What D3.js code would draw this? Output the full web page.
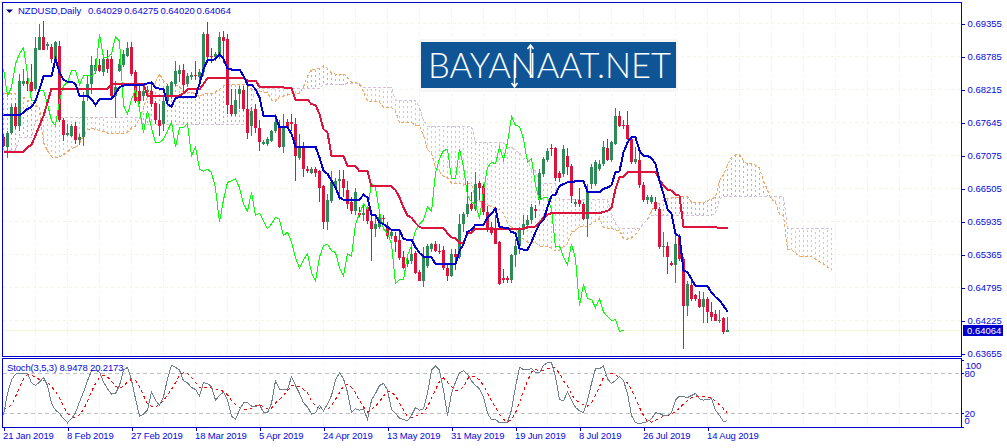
<!DOCTYPE html>
<html lang="en">
	<head>
		<meta charset="utf-8">
		<title>NZDUSD Daily</title>
		<script type="text/javascript" src="https://cdn.jsdelivr.net/npm/d3@7"></script>
		<style type="text/css">
			html, body{
				margin: 0;
				padding: 0;
				background: white;
				overflow: hidden;
			}
			svg{
				display: block;
			}
			text{
				font-family: "Liberation Sans", sans-serif;
				font-size: 9.5px;
				fill: #0808dc;
			}
			.axis path, .axis line{
				stroke: #0000cd;
				shape-rendering: crispEdges;
			}
			.axis path{
				display: none;
			}
			.axis text{
				font-family: "Liberation Sans", sans-serif;
				font-size: 9.5px;
				fill: #0808dc;
			}
			.tight{
				letter-spacing: -0.15px;
			}
		</style>
	</head>
	<body>
		<div class="chart"></div>
		<script type="text/javascript">

			// all prices in 1/10000
			var open = [
				6739,6722,6747,6791,6759,6831,6837,6834,6822,6890,
				6913,6896,6895,6874,6897,6768,6743,6742,6759,6734,
				6739,6811,6831,6854,6863,6851,6874,6874,6811,6854,
				6863,6880,6895,6851,6819,6811,6817,6819,6799,6768,
				6762,6802,6811,6831,6848,6856,6831,6843,6846,6843,
				6851,6917,6880,6877,6880,6912,6909,6794,6779,6814,
				6821,6788,6759,6788,6755,6727,6727,6733,6750,6757,
				6722,6765,6766,6762,6704,6722,6684,6677,6684,6680,
				6654,6592,6629,6653,6663,6667,6648,6627,6611,6608,
				6604,6618,6595,6581,6584,6600,6586,6569,6569,6561,
				6533,6520,6526,6539,6506,6491,6517,6546,6555,6543,
				6545,6514,6500,6538,6532,6589,6607,6624,6615,6660,
				6654,6610,6584,6581,6558,6496,6496,6492,6535,6552,
				6578,6588,6596,6615,6630,6676,6700,6720,6720,6677,
				6675,6707,6690,6624,6630,6624,6598,6658,6658,6684,
				6692,6720,6699,6728,6775,6760,6761,6736,6696,6699,
				6657,6630,6627,6627,6615,6549,6552,6522,6518,6569,
				6529,6447,6483,6466,6460,6445,6460,6438,6433,6423,
				6426,6403];
			var high = [
				6745,6750,6796,6799,6848,6857,6845,6866,6912,6935,
				6940,6903,6900,6906,6905,6773,6762,6762,6765,6745,
				6817,6845,6880,6874,6875,6880,6889,6880,6837,6874,
				6889,6903,6903,6855,6831,6831,6828,6837,6802,6796,
				6811,6831,6837,6871,6863,6866,6850,6851,6871,6857,
				6920,6938,6894,6886,6920,6923,6917,6822,6822,6828,
				6828,6831,6792,6796,6768,6735,6740,6752,6779,6768,
				6779,6771,6780,6773,6745,6730,6690,6688,6687,6682,
				6656,6641,6680,6669,6682,6683,6664,6635,6652,6618,
				6625,6621,6604,6604,6607,6604,6592,6581,6575,6578,
				6543,6535,6549,6543,6509,6549,6555,6556,6559,6554,
				6552,6520,6546,6546,6607,6610,6664,6644,6679,6664,
				6658,6621,6592,6604,6560,6512,6500,6538,6563,6584,
				6604,6604,6623,6622,6684,6705,6720,6728,6722,6680,
				6725,6720,6692,6633,6652,6628,6658,6693,6699,6699,
				6733,6736,6733,6790,6785,6768,6785,6740,6722,6715,
				6662,6640,6640,6635,6618,6576,6558,6526,6572,6572,
				6532,6491,6494,6468,6474,6471,6463,6454,6440,6441,
				6428,6428];
			var low = [
				6722,6704,6745,6753,6750,6828,6819,6817,6819,6889,
				6889,6889,6868,6870,6765,6733,6742,6740,6728,6726,
				6724,6802,6814,6848,6851,6845,6850,6808,6773,6851,
				6860,6877,6845,6799,6796,6802,6808,6791,6762,6742,
				6750,6796,6805,6828,6834,6814,6825,6838,6838,6835,
				6845,6871,6868,6871,6875,6868,6779,6776,6776,6788,
				6785,6736,6742,6747,6716,6726,6724,6730,6747,6720,
				6711,6754,6750,6664,6700,6670,6678,6676,6670,6627,
				6580,6579,6625,6650,6630,6635,6615,6607,6604,6602,
				6595,6589,6525,6566,6581,6589,6563,6563,6540,6527,
				6512,6515,6520,6503,6490,6480,6514,6540,6540,6537,
				6509,6491,6497,6510,6529,6575,6601,6612,6612,6630,
				6604,6575,6570,6554,6484,6488,6488,6488,6515,6538,
				6570,6580,6589,6600,6624,6670,6697,6707,6664,6661,
				6670,6673,6625,6618,6618,6596,6566,6650,6654,6680,
				6690,6698,6697,6725,6756,6754,6734,6693,6693,6652,
				6627,6624,6624,6612,6546,6532,6503,6516,6487,6526,
				6374,6431,6457,6457,6444,6419,6419,6422,6421,6418,
				6400,6402];
			var close = [
				6724,6747,6791,6759,6837,6837,6831,6819,6894,6913,
				6890,6900,6874,6903,6768,6743,6746,6759,6734,6739,
				6802,6831,6864,6863,6854,6874,6857,6811,6825,6866,
				6883,6894,6848,6802,6802,6819,6820,6796,6768,6759,
				6802,6828,6834,6854,6855,6830,6845,6846,6844,6851,
				6917,6877,6877,6883,6912,6905,6794,6779,6804,6822,
				6788,6747,6785,6755,6730,6730,6736,6750,6765,6722,
				6756,6756,6762,6707,6722,6684,6680,6684,6678,6651,
				6592,6631,6661,6664,6667,6652,6624,6611,6644,6604,
				6608,6595,6581,6589,6601,6597,6569,6575,6558,6531,
				6513,6527,6538,6505,6491,6532,6552,6554,6543,6540,
				6513,6500,6538,6533,6589,6607,6624,6615,6658,6652,
				6610,6581,6573,6555,6486,6493,6493,6535,6552,6578,
				6589,6596,6619,6611,6677,6702,6716,6718,6668,6668,
				6719,6688,6638,6627,6624,6598,6647,6687,6696,6693,
				6722,6700,6730,6775,6759,6758,6736,6696,6702,6656,
				6630,6635,6635,6615,6549,6551,6532,6519,6555,6529,
				6447,6485,6460,6459,6445,6460,6437,6429,6422,6424,
				6403,6406];

			var tenkan = [
				6778,6777,6777,6777,6777,6782,6788,6791,6802,6822,
				6844,6845,6845,6874,6851,6838,6835,6835,6831,6811,
				6811,6811,6805,6795,6805,6805,6805,6805,6814,6826,
				6828,6830,6830,6830,6830,6830,6832,6834,6825,6823,
				6822,6796,6792,6807,6808,6808,6808,6808,6809,6831,
				6857,6872,6872,6874,6883,6874,6858,6856,6856,6856,
				6845,6830,6830,6822,6808,6776,6776,6776,6776,6756,
				6756,6756,6745,6723,6723,6723,6723,6723,6723,6704,
				6681,6676,6664,6652,6635,6631,6631,6631,6631,6631,
				6640,6635,6605,6604,6592,6589,6584,6579,6579,6579,
				6563,6562,6562,6549,6539,6533,6532,6532,6520,6520,
				6520,6520,6520,6520,6543,6554,6576,6579,6588,6588,
				6588,6600,6607,6616,6584,6583,6583,6575,6574,6547,
				6545,6545,6558,6575,6589,6596,6618,6638,6640,6655,
				6658,6661,6661,6663,6663,6663,6645,6644,6644,6644,
				6650,6652,6656,6679,6680,6713,6730,6739,6739,6716,
				6707,6707,6703,6693,6664,6641,6615,6607,6572,6568,
				6509,6506,6494,6482,6482,6482,6482,6471,6463,6457,
				6448,6438];
			var kijun = [
				6714,6714,6714,6714,6714,6714,6722,6726,6742,6759,
				6776,6799,6823,6823,6823,6823,6823,6823,6823,6823,
				6823,6823,6823,6823,6823,6823,6823,6831,6831,6831,
				6831,6831,6831,6831,6831,6831,6811,6811,6811,6811,
				6811,6811,6811,6811,6811,6815,6822,6822,6822,6822,
				6831,6841,6841,6841,6841,6841,6841,6841,6841,6841,
				6841,6837,6837,6837,6826,6826,6826,6826,6825,6825,
				6825,6824,6824,6804,6804,6804,6804,6796,6795,6779,
				6753,6747,6707,6707,6707,6707,6689,6689,6689,6680,
				6680,6680,6654,6654,6654,6654,6654,6654,6648,6635,
				6618,6604,6600,6591,6584,6582,6582,6582,6582,6582,
				6582,6573,6566,6565,6556,6556,6573,6574,6581,6581,
				6581,6581,6581,6581,6581,6581,6581,6581,6581,6581,
				6581,6584,6584,6585,6592,6600,6605,6608,6608,6608,
				6608,6608,6608,6608,6608,6608,6608,6608,6608,6608,
				6610,6612,6617,6650,6670,6671,6679,6679,6679,6679,
				6679,6679,6679,6679,6665,6656,6648,6647,6640,6638,
				6584,6584,6584,6584,6584,6584,6584,6584,6584,6582,
				6582,6582];
			var chikou = [
				6857,6811,6825,6866,
				6883,6894,6848,6802,6802,6819,6820,6796,6768,6759,
				6802,6828,6834,6854,6855,6830,6845,6846,6844,6851,
				6917,6877,6877,6883,6912,6905,6794,6779,6804,6822,
				6788,6747,6785,6755,6730,6730,6736,6750,6765,6722,
				6756,6756,6762,6707,6722,6684,6680,6684,6678,6651,
				6592,6631,6661,6664,6667,6652,6624,6611,6644,6604,
				6608,6595,6581,6589,6601,6597,6569,6575,6558,6531,
				6513,6527,6538,6505,6491,6532,6552,6554,6543,6540,
				6513,6500,6538,6533,6589,6607,6624,6615,6658,6652,
				6610,6581,6573,6555,6486,6493,6493,6535,6552,6578,
				6589,6596,6619,6611,6677,6702,6716,6718,6668,6668,
				6719,6688,6638,6627,6624,6598,6647,6687,6696,6693,
				6722,6700,6730,6775,6759,6758,6736,6696,6702,6656,
				6630,6635,6635,6615,6549,6551,6532,6519,6555,6529,
				6447,6485,6460,6459,6445,6460,6437,6429,6422,6424,
				6403,6406];
			var spanA = [
				6815,6815,6815,6815,6813,6808,6803,6797,6794,6790,
				6730,6716,6705,6704,6705,6709,6714,6720,6721,6728,
				6742,6751,6754,6753,6751,6749,6746,6746,6746,6746,
				6746,6748,6755,6758,6772,6790,6810,6822,6834,6848,
				6837,6830,6829,6829,6827,6817,6817,6817,6814,6809,
				6814,6814,6814,6818,6822,6828,6830,6830,6830,6830,
				6830,6830,6822,6822,6818,6817,6816,6803,6801,6809,
				6810,6812,6815,6815,6815,6826,6844,6856,6856,6858,
				6862,6858,6850,6848,6848,6848,6843,6834,6834,6830,
				6817,6801,6801,6801,6800,6790,6790,6790,6784,6764,
				6764,6764,6764,6760,6759,6742,6717,6712,6686,6680,
				6671,6669,6660,6660,6660,6656,6660,6658,6630,6629,
				6623,6622,6619,6617,6614,6607,6590,6583,6581,6570,
				6562,6558,6557,6557,6551,6551,6551,6547,6543,6543,
				6550,6555,6575,6577,6585,6585,6585,6590,6594,6599,
				6583,6582,6582,6578,6578,6564,6563,6565,6571,6580,
				6590,6598,6612,6623,6624,6632,6633,6635,6635,6636,
				6636,6636,6627,6626,6626,6626,6630,6632,6636,6664,
				6675,6692,6704,6709,6709,6698,6693,6693,6691,6686,
				6664,6648,6632,6627,6606,6603,6546,6545,6539,6533,
				6533,6533,6533,6528,6524,6520,6515,6510];
			var spanB = [
				6716,6716,6716,6716,6739,6739,6739,6739,6765,6773,
				6773,6773,6773,6773,6773,6773,6773,6773,6773,6773,
				6773,6773,6773,6773,6773,6773,6773,6773,6773,6773,
				6773,6773,6773,6773,6773,6761,6761,6761,6761,6761,
				6761,6761,6761,6761,6761,6761,6761,6761,6761,6761,
				6761,6761,6761,6761,6761,6761,6761,6761,6761,6761,
				6761,6761,6800,6823,6823,6823,6823,6823,6823,6823,
				6823,6823,6823,6823,6823,6823,6823,6823,6823,6823,
				6830,6830,6830,6830,6830,6830,6832,6832,6832,6832,
				6825,6825,6825,6825,6825,6825,6825,6825,6802,6802,
				6802,6802,6802,6802,6790,6768,6758,6758,6758,6758,
				6758,6758,6758,6758,6758,6758,6758,6758,6730,6730,
				6730,6730,6730,6730,6730,6730,6722,6722,6716,6712,
				6702,6702,6682,6682,6659,6659,6659,6659,6659,6631,
				6631,6631,6631,6631,6631,6631,6631,6631,6631,6631,
				6631,6631,6607,6590,6581,6581,6581,6581,6581,6581,
				6590,6597,6604,6604,6604,6604,6604,6604,6604,6604,
				6604,6604,6604,6604,6604,6604,6604,6604,6608,6632,
				6637,6637,6637,6637,6637,6637,6637,6637,6637,6637,
				6637,6637,6637,6637,6637,6637,6582,6582,6582,6582,
				6582,6582,6582,6582,6582,6582,6582,6582];

			var stochMain = [
				18,50,70,79,80,80,80,66,62,67,
				74,62,35,25,20,12,6,12,21,37,
				52,69,84,85,82,67,57,49,50,62,
				85,89,70,42,16,19,25,52,40,32,
				45,72,92,89,85,69,66,59,56,46,
				66,65,60,40,47,52,40,16,11,25,
				36,36,31,30,33,22,21,35,69,56,
				56,56,75,62,50,36,30,19,21,32,
				24,34,47,70,81,72,52,21,27,25,
				27,11,40,50,62,65,55,26,20,13,
				11,9,17,29,25,27,50,85,91,85,
				55,17,50,67,81,84,79,69,62,57,
				45,20,11,11,6,6,7,25,60,89,
				86,86,87,81,81,92,96,96,75,41,
				39,52,40,29,24,21,40,65,87,87,
				91,72,65,69,75,69,50,17,6,5,
				6,8,12,21,20,17,17,21,40,46,
				45,44,47,50,42,40,41,42,25,17,
				8,8.9478];
			var stochSignal = [
				26,28,33,45,59,72,78,77,74,71,
				70,66,60,53,43,31,20,15,14,18,
				26,38,53,65,74,77,75,68,61,57,
				61,67,71,70,60,47,34,31,30,34,
				39,48,56,66,77,81,80,74,67,59,
				59,58,59,55,56,53,48,39,33,29,
				26,25,28,32,33,30,27,28,36,41,
				47,54,62,61,60,56,51,39,31,28,
				25,26,32,41,51,61,64,59,51,39,
				30,22,26,31,38,46,54,52,46,36,
				25,16,14,16,18,21,30,43,56,68,
				73,67,60,55,54,60,72,76,75,70,
				62,51,39,29,19,11,8,11,21,37,
				53,69,82,86,84,85,87,89,88,80,
				69,61,49,40,37,33,31,36,47,60,
				74,80,80,77,74,70,66,56,43,29,
				17,8,7,10,13,16,17,19,23,28,
				34,39,44,46,46,45,44,43,38,33,
				27,20.2173];

			var priceTicks = [0.69355,0.68785,0.68215,0.67645,0.67075,0.66505,0.65935,0.65365,0.64795,0.64225,0.63655];
			var stochTicks = [100,80,20,0];
			var stochLevels = [80,20];
			var dateTicks = ["21 Jan 2019","8 Feb 2019","27 Feb 2019","18 Mar 2019","5 Apr 2019","24 Apr 2019","13 May 2019","31 May 2019","19 Jun 2019","8 Jul 2019","26 Jul 2019","14 Aug 2019"];
			var headValues = ["0.64029","0.64275","0.64020","0.64064"];
			var lastPrice = 0.64064;

			var w = 1007;
			var h = 448;
			var chartR = 961.5;

			var svg = d3.select("div.chart")
						.append("svg")
						.attr("width", w)
						.attr("height", h);

			var xScale = d3.scaleLinear()
							.domain([0, 1])
							.range([3.5, 7.5]);

			// price scale works on real prices, arrays go in through p()
			var yScale = d3.scaleLinear()
							.domain([0.63655, 0.69355])
							.range([353.5, 23.5]);
			function p(d){
				return yScale(d / 10000);
			}

			var stochY = d3.scaleLinear()
							.domain([0, 100])
							.range([426.8, 360.1]);

			var beige = "#f5f5dc";

			// grid
			var grid = svg.append("g")
						.attr("fill", "none")
						.attr("stroke", beige)
						.attr("stroke-dasharray", "3 3")
						.attr("shape-rendering", "crispEdges");

			grid.selectAll("line.v")
				.data(d3.range(1, 30))
				.enter()
				.append("line")
				.attr("class", "v")
				.attr("x1", (d)=> xScale(d * 8))
				.attr("x2", (d)=> xScale(d * 8))
				.attr("y1", 3)
				.attr("y2", 427);

			grid.selectAll("line.h")
				.data(priceTicks)
				.enter()
				.append("line")
				.attr("class", "h")
				.attr("x1", 3)
				.attr("x2", chartR)
				.attr("y1", (d)=> yScale(d))
				.attr("y2", (d)=> yScale(d));

			svg.append("line")
				.attr("x1", 3)
				.attr("x2", chartR)
				.attr("y1", Math.round(yScale(lastPrice)) + 0.5)
				.attr("y2", Math.round(yScale(lastPrice)) + 0.5)
				.attr("stroke", beige)
				.attr("shape-rendering", "crispEdges");

			// cloud hatch
			var clip = svg.append("clipPath")
						.attr("id", "mainClip")
						.append("rect")
						.attr("x", 3)
						.attr("y", 3)
						.attr("width", chartR - 3)
						.attr("height", 353);

			var plot = svg.append("g")
						.attr("clip-path", "url(#mainClip)");

			var orange = "#f4a460";
			var thistle = "#d8bfd8";

			plot.append("g")
				.attr("shape-rendering", "crispEdges")
				.attr("stroke-dasharray", "2 3")
				.selectAll("line")
				.data(spanA)
				.enter()
				.append("line")
				.attr("x1", (d,i)=> xScale(i))
				.attr("x2", (d,i)=> xScale(i))
				.attr("y1", (d)=> p(d))
				.attr("y2", (d,i)=> p(spanB[i]))
				.attr("stroke", (d,i)=> d >= spanB[i] ? orange : thistle);

			var line = d3.line()
						.x((d,i)=> xScale(i))
						.y((d)=> p(d));

			plot.append("path")
				.attr("d", line(spanA))
				.attr("fill", "none")
				.attr("stroke", orange)
				.attr("stroke-dasharray", "3 2")
				.attr("shape-rendering", "crispEdges");

			plot.append("path")
				.attr("d", line(spanB))
				.attr("fill", "none")
				.attr("stroke", thistle)
				.attr("stroke-dasharray", "3 2")
				.attr("shape-rendering", "crispEdges");

			// candles
			var candle = plot.append("g")
							.attr("shape-rendering", "crispEdges")
							.selectAll("g")
							.data(open)
							.enter()
							.append("g");

			function candleColor(d, i){
				return close[i] >= d ? "#2e8b57" : "#dc143c";
			}

			candle.append("line")
				.attr("x1", (d,i)=> xScale(i))
				.attr("x2", (d,i)=> xScale(i))
				.attr("y1", (d,i)=> p(high[i]))
				.attr("y2", (d,i)=> p(low[i]))
				.attr("stroke", candleColor);

			candle.append("rect")
				.attr("x", (d,i)=> xScale(i) - 1.5)
				.attr("width", 3)
				.attr("y", (d,i)=> p(Math.max(d, close[i])))
				.attr("height", (d,i)=> Math.max(1, p(Math.min(d, close[i])) - p(Math.max(d, close[i]))))
				.attr("fill", candleColor);

			// lines
			plot.append("path")
				.attr("d", line(chikou))
				.attr("fill", "none")
				.attr("stroke", "#00ff00")
				.attr("shape-rendering", "crispEdges");

			plot.append("path")
				.attr("d", line(kijun))
				.attr("fill", "none")
				.attr("stroke", "#dc143c")
				.attr("stroke-width", 2)
				.attr("shape-rendering", "crispEdges");

			plot.append("path")
				.attr("d", line(tenkan))
				.attr("fill", "none")
				.attr("stroke", "#0000cd")
				.attr("stroke-width", 2)
				.attr("shape-rendering", "crispEdges");

			// stochastic panel
			svg.selectAll("line.level")
				.data(stochLevels)
				.enter()
				.append("line")
				.attr("class", "level")
				.attr("x1", 3)
				.attr("x2", chartR)
				.attr("y1", (d)=> Math.round(stochY(d)) + 0.5)
				.attr("y2", (d)=> Math.round(stochY(d)) + 0.5)
				.attr("stroke", "#c0c0c0")
				.attr("stroke-dasharray", "4 3")
				.attr("shape-rendering", "crispEdges");

			var stochLine = d3.line()
							.x((d,i)=> xScale(i))
							.y((d)=> stochY(d));

			svg.append("path")
				.attr("d", stochLine(stochSignal))
				.attr("fill", "none")
				.attr("stroke", "#ff0000")
				.attr("stroke-dasharray", "3 3")
				.attr("shape-rendering", "crispEdges");

			svg.append("path")
				.attr("d", stochLine(stochMain))
				.attr("fill", "none")
				.attr("stroke", "#708090")
				.attr("shape-rendering", "crispEdges");

			// borders
			svg.append("g")
				.attr("fill", "none")
				.attr("stroke", "#0000cd")
				.attr("shape-rendering", "crispEdges")
				.selectAll("rect")
				.data([[2.5, 2.5, 356.5], [2.5, 358.5, 427.5]])
				.enter()
				.append("rect")
				.attr("x", (d)=> d[0])
				.attr("y", (d)=> d[1])
				.attr("width", chartR - 2.5)
				.attr("height", (d)=> d[2] - d[1]);

			// axes
			var yAxis = d3.axisRight(yScale)
						.tickValues(priceTicks)
						.tickFormat((d)=> d.toFixed(5))
						.tickSize(3)
						.tickPadding(3);

			svg.append("g")
				.attr("class", "axis")
				.attr("transform", "translate(" + chartR + ",0)")
				.call(yAxis)
				.attr("font-family", null)
				.attr("font-size", null);

			var stochAxis = d3.axisRight(stochY)
							.tickValues(stochTicks)
							.tickSize(2)
							.tickPadding(1);

			var stochG = svg.append("g")
							.attr("class", "axis")
							.attr("transform", "translate(" + chartR + ",0)")
							.call(stochAxis)
							.attr("font-family", null)
							.attr("font-size", null);

			// the end labels of the panel are pushed inwards
			stochG.selectAll("text")
				.attr("dy", (d)=> d == 100 ? "0.9em" : d == 0 ? "-0.35em" : "0.32em")
				.attr("x", (d)=> d == 100 ? 4 : 3);

			var xAxis = d3.axisBottom(xScale)
						.tickValues(dateTicks.map((d,i)=> i * 16))
						.tickFormat((d,i)=> dateTicks[i])
						.tickSize(3)
						.tickPadding(2);

			svg.append("g")
				.attr("class", "axis")
				.attr("transform", "translate(0,427.5)")
				.call(xAxis)
				.attr("font-family", null)
				.attr("font-size", null)
				.selectAll("text")
				.attr("class", "tight")
				.attr("text-anchor", "start")
				.attr("x", -1);

			// last price box
			svg.append("rect")
				.attr("x", 963)
				.attr("y", Math.round(yScale(lastPrice)) - 5)
				.attr("width", 40)
				.attr("height", 11)
				.attr("fill", "#0000cd");

			svg.append("text")
				.attr("x", 967)
				.attr("y", Math.round(yScale(lastPrice)) + 4)
				.style("fill", "white")
				.text(lastPrice.toFixed(5));

			// header
			svg.append("path")
				.attr("d", "M6,9.5H13L9.5,13Z")
				.attr("fill", "#000080");

			svg.append("text")
				.attr("x", 18)
				.attr("y", 14)
				.text("NZDUSD,Daily");

			svg.selectAll("text.head")
				.data(headValues)
				.enter()
				.append("text")
				.attr("class", "head")
				.attr("x", (d,i)=> 88 + i * 36.2)
				.attr("y", 14)
				.text((d)=> d);

			svg.append("text")
				.attr("class", "tight")
				.attr("x", 7)
				.attr("y", 371)
				.text("Stoch(3,5,3) 8.9478 20.2173");

			// logo
			var logo = svg.append("g");

			logo.append("rect")
				.attr("x", 419)
				.attr("y", 39)
				.attr("width", 259)
				.attr("height", 53)
				.attr("fill", "#f6f6f6");

			logo.append("rect")
				.attr("x", 421)
				.attr("y", 42)
				.attr("width", 255)
				.attr("height", 46)
				.attr("fill", "#0f5596");

			logo.append("text")
				.attr("x", 428)
				.attr("y", 78)
				.attr("textLength", 243)
				.attr("lengthAdjust", "spacingAndGlyphs")
				.style("font-family", "Lato, sans-serif")
				.style("font-weight", 300)
				.style("font-size", "35px")
				.style("fill", "white")
				.text("BAYANAAT.NET");

			logo.append("path")
				.attr("d", "M514.5,60V86M511.5,83L514.5,87L517.5,83M530.5,78V45M527.5,49L530.5,45L533.5,49")
				.attr("fill", "none")
				.attr("stroke", "white")
				.attr("stroke-width", 1.5);
		</script>
	</body>
</html>
